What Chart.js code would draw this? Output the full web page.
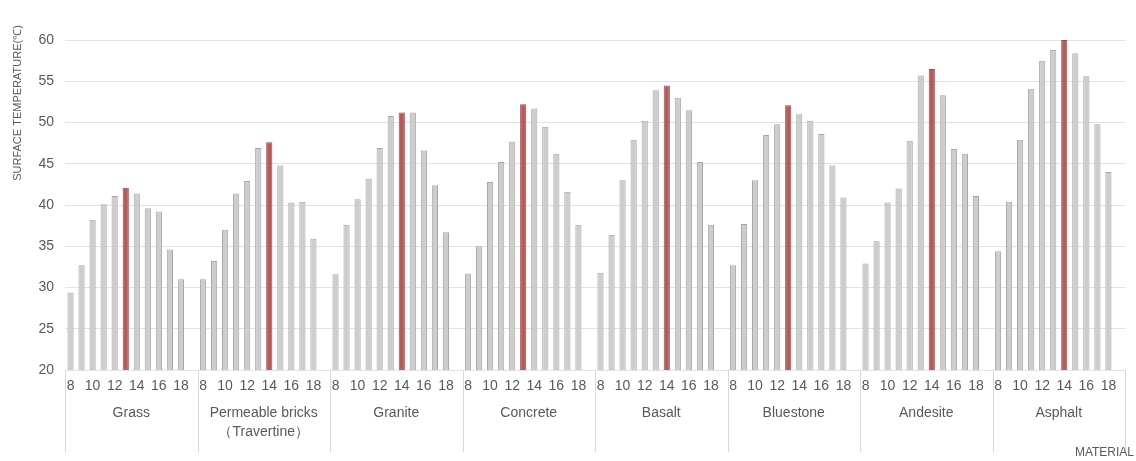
<!DOCTYPE html>
<html>
<head>
<meta charset="utf-8">
<script src="https://cdn.jsdelivr.net/npm/chart.js@4/dist/chart.umd.min.js"></script>
<style>
  html, body { margin: 0; padding: 0; background: #ffffff; }
  canvas { display: block; }
</style>
</head>
<body>
<canvas id="chart" width="1136" height="461"></canvas>
<script>
// Hours of measurement in each material block (last slot left empty as a spacer)
const hours = ['8', '9', '10', '11', '12', '13', '14', '15', '16', '17', '18', ''];
const materials = ['Grass', ['Permeable bricks', '（Travertine）'], 'Granite', 'Concrete',
                   'Basalt', 'Bluestone', 'Andesite', 'Asphalt'];

// Surface temperature (°C), 8:00 – 18:00
const grass     = [29.4, 32.7, 38.2, 40.1, 41.1, 42.1, 41.4, 39.6, 39.2, 34.6, 31.0];
const permeable = [31.0, 33.2, 37.0, 41.4, 42.9, 46.9, 47.6, 44.8, 40.3, 40.4, 35.9];
const granite   = [31.6, 37.6, 40.7, 43.2, 46.9, 50.8, 51.2, 51.2, 46.6, 42.4, 36.7];
const concrete  = [31.7, 35.0, 42.8, 45.2, 47.7, 52.2, 51.7, 49.5, 46.2, 41.6, 37.6];
const basalt    = [31.8, 36.4, 43.0, 47.9, 50.2, 53.9, 54.5, 53.0, 51.5, 45.2, 37.6];
const bluestone = [32.7, 37.7, 43.0, 48.5, 49.8, 52.1, 51.0, 50.2, 48.6, 44.8, 40.9];
const andesite  = [32.9, 35.6, 40.3, 42.0, 47.8, 55.7, 56.5, 53.3, 46.8, 46.2, 41.1];
const asphalt   = [34.4, 40.4, 47.9, 54.1, 57.5, 58.8, 60.0, 58.4, 55.6, 49.8, 44.0];

// Hour of the daily peak for each material (highlighted bar)
const peakHour = [13, 14, 14, 13, 14, 13, 14, 14];

const yTicks = [20, 25, 30, 35, 40, 45, 50, 55, 60];

const series = [grass, permeable, granite, concrete, basalt, bluestone, andesite, asphalt];

const labels = [];
const values = [];
const fills = [];
const borders = [];
series.forEach((vals, g) => {
  hours.forEach((h, i) => {
    labels.push(h);
    const v = i < vals.length ? vals[i] : null;
    values.push(v);
    const peak = h !== '' && Number(h) === peakHour[g];
    fills.push(peak ? '#b25c5c' : '#cdcdcd');
    borders.push(peak ? '#9a4848' : '#a6a6a6');
  });
});

const FONT = '"Liberation Sans", Arial, sans-serif';
const TEXT = '#595959';

const decorations = {
  id: 'decorations',
  afterDraw(chart) {
    const { ctx, chartArea, scales: { x } } = chart;
    const slot = x.getPixelForValue(1) - x.getPixelForValue(0);
    ctx.save();
    // group separators under the axis
    ctx.strokeStyle = '#d9d9d9';
    ctx.lineWidth = 1;
    for (let g = 0; g <= materials.length; g++) {
      const px = Math.round(x.getPixelForValue(g * hours.length) - slot / 2) + 0.5;
      ctx.beginPath();
      ctx.moveTo(px, chartArea.bottom);
      ctx.lineTo(px, 452);
      ctx.stroke();
    }
    // axis titles
    ctx.fillStyle = TEXT;
    ctx.textBaseline = 'middle';
    ctx.textAlign = 'right';
    ctx.font = '12px ' + FONT;
    ctx.fillText('MATERIAL', 1134, 453);
    ctx.font = '11px ' + FONT;
    ctx.translate(18, 103);
    ctx.rotate(-Math.PI / 2);
    ctx.textAlign = 'center';
    ctx.fillText('SURFACE TEMPERATURE(℃)', 0, 0);
    ctx.restore();
  }
};

new Chart(document.getElementById('chart'), {
  type: 'bar',
  data: {
    labels: labels,
    datasets: [{
      data: values,
      backgroundColor: fills,
      borderColor: borders,
      borderWidth: 1,
      barPercentage: 0.56,
      categoryPercentage: 1.0
    }]
  },
  options: {
    responsive: false,
    animation: false,
    layout: { padding: { top: 40, right: 11, bottom: 0, left: 0 } },
    plugins: { legend: { display: false }, tooltip: { enabled: false } },
    scales: {
      y: {
        min: yTicks[0],
        max: yTicks[yTicks.length - 1],
        afterBuildTicks(scale) { scale.ticks = yTicks.map(v => ({ value: v })); },
        afterFit(scale) { scale.width = 65; },
        border: { display: false },
        grid: { color: '#e3e3e3', drawTicks: false },
        ticks: { color: TEXT, font: { family: FONT, size: 14 }, padding: 11 }
      },
      x: {
        weight: 1,
        afterFit(scale) { scale.height = 30; },
        border: { display: false },
        grid: { display: false, drawTicks: false },
        ticks: {
          autoSkip: false,
          maxRotation: 0,
          color: TEXT,
          font: { family: FONT, size: 14 },
          padding: 8,
          callback(value, index) {
            const h = hours[index % hours.length];
            return h !== '' && Number(h) % 2 === 0 ? h : '';
          }
        }
      },
      x2: {
        type: 'category',
        position: 'bottom',
        weight: 2,
        labels: materials,
        offset: true,
        afterFit(scale) { scale.height = 61; },
        border: { display: false },
        grid: { display: false, drawTicks: false },
        ticks: {
          autoSkip: false,
          maxRotation: 0,
          color: TEXT,
          font: { family: FONT, size: 14, lineHeight: 1.35 },
          padding: 4
        }
      }
    }
  },
  plugins: [decorations]
});
</script>
</body>
</html>
